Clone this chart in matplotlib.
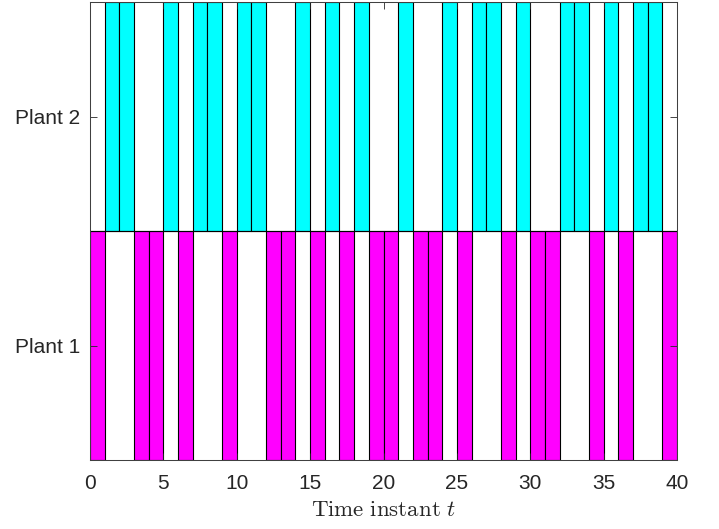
import matplotlib.pyplot as plt
import numpy as np

plt.rcParams['font.family'] = ['Liberation Sans', 'DejaVu Sans']
plt.rcParams['mathtext.fontset'] = 'cm'

# which plant is served at each time instant t = 0..39
schedule = [1, 2, 2, 1, 1, 2, 1, 2, 2, 1,
            2, 2, 1, 1, 2, 1, 2, 1, 2, 1,
            1, 2, 1, 1, 2, 1, 2, 2, 1, 2,
            1, 1, 2, 2, 1, 2, 1, 2, 2, 1]
plant_labels = ["Plant 1", "Plant 2"]
plant_colors = ["#ff00ff", "#00ffff"]
xticks = [0, 5, 10, 15, 20, 25, 30, 35, 40]

t = np.arange(len(schedule))
sched = np.array(schedule)

fig = plt.figure(figsize=(7.19, 5.29), dpi=100)
ax = fig.add_axes([0.1252, 0.1304, 0.8164, 0.8658])

for p in (1, 2):
    ts = t[sched == p]
    ax.bar(ts, np.ones(len(ts)), width=1, bottom=p - 0.5, align='edge',
           color=plant_colors[p - 1], edgecolor='black', linewidth=0.8)

ax.axhline(1.5, color='black', linewidth=0.8)

ax.set_xlim(0, 40)
ax.set_ylim(0.5, 2.5)
ax.set_xticks(xticks)
ax.set_yticks([1, 2])
ax.set_yticklabels(plant_labels)
ax.tick_params(direction='in', length=5, width=0.6, colors='#262626',
               labelsize=15, top=True, right=True)
ax.tick_params(axis='x', pad=10)
ax.tick_params(axis='y', pad=7)
for s in ax.spines.values():
    s.set_color('#404040')
    s.set_linewidth(0.75)

ax.set_xlabel(r"$\mathrm{Time\ instant}\ t$", fontsize=16.5, color='#262626', labelpad=4)

fig.savefig("out.png", dpi=100)
